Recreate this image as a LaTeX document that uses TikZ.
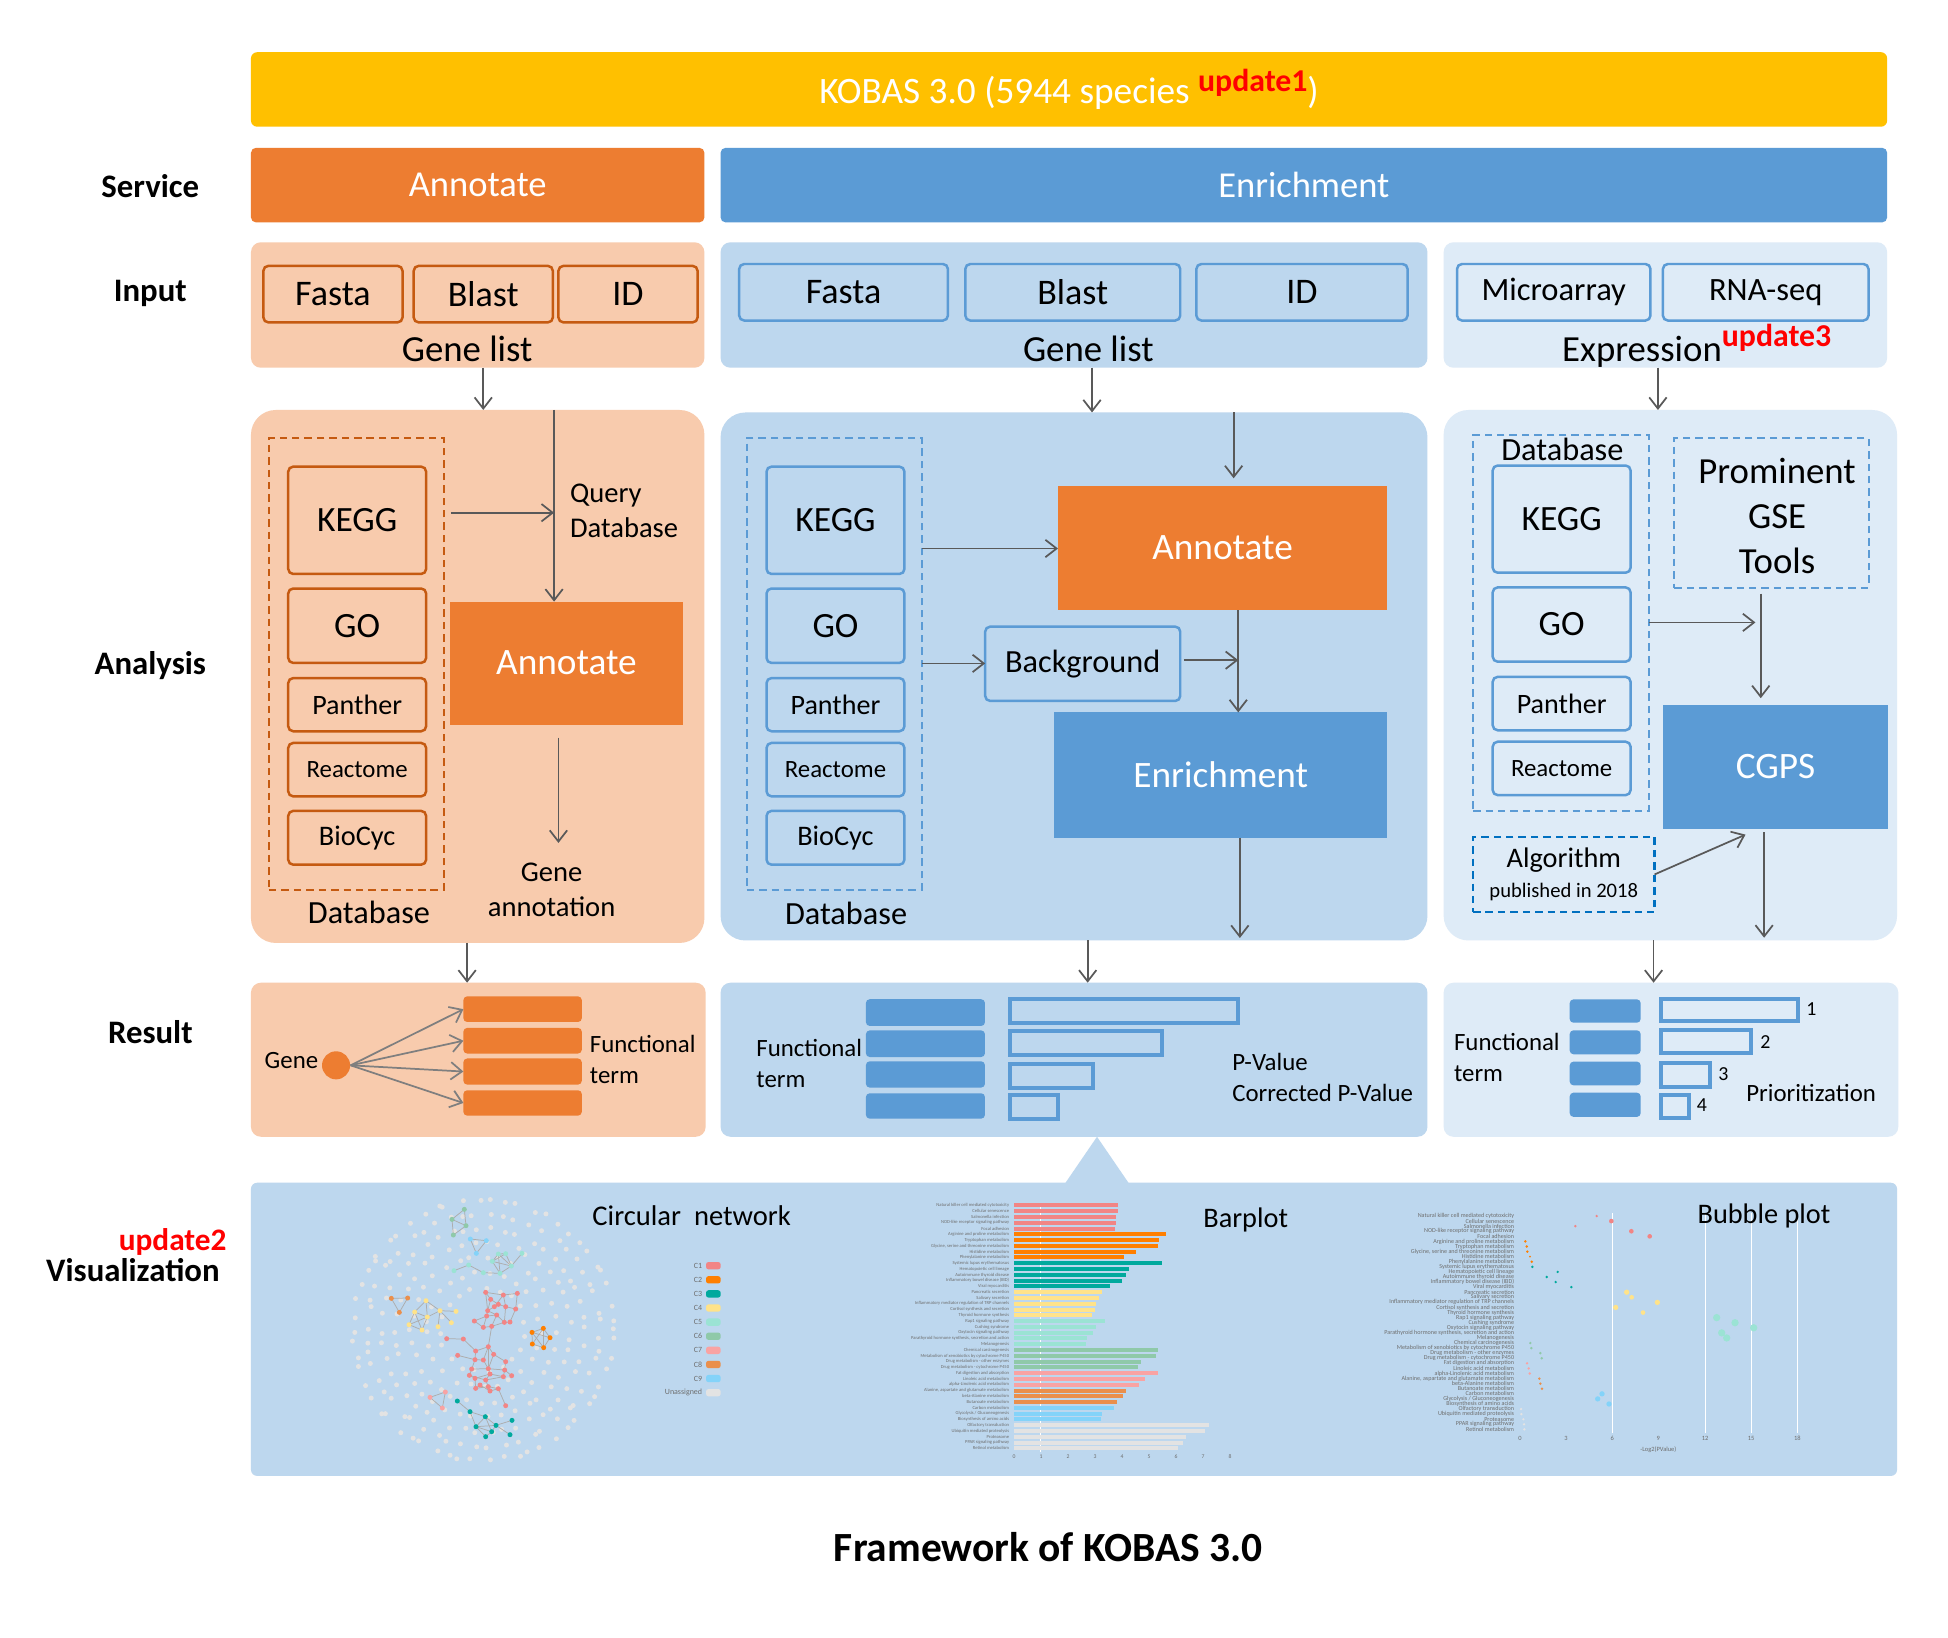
\documentclass[tikz,border=0pt]{standalone}
\usepackage{fontspec}
\setmainfont{Carlito}
\usetikzlibrary{arrows.meta}
\definecolor{kyel}{HTML}{FFC000}
\definecolor{kor}{HTML}{ED7D31}
\definecolor{kbl}{HTML}{5B9BD5}
\definecolor{klo}{HTML}{F8CBAD}
\definecolor{klb}{HTML}{BDD7EE}
\definecolor{kvb}{HTML}{DEEBF7}
\definecolor{kod}{HTML}{C55A11}
\definecolor{kdb}{HTML}{0070C0}
\definecolor{karr}{HTML}{595959}
\definecolor{karr2}{HTML}{7F7F7F}
\definecolor{kred}{HTML}{FF0000}
\definecolor{nwA}{HTML}{F28585}
\definecolor{nwB}{HTML}{FF7F00}
\definecolor{nwC}{HTML}{00A99D}
\definecolor{nwD}{HTML}{FFE38A}
\definecolor{nwE}{HTML}{9BE3D4}
\definecolor{nwF}{HTML}{8FC9A9}
\definecolor{nwG}{HTML}{F9A3A3}
\definecolor{nwH}{HTML}{EA8F4C}
\definecolor{nwI}{HTML}{84D3F9}
\definecolor{nwU}{HTML}{E3E3E3}
\definecolor{ktxt}{HTML}{6E6E6E}
\newcommand\kfs[2]{\fontsize{#1}{#2}\selectfont}
\newcommand\kbox[7]{\node[inner sep=0pt,outer sep=0pt,#2,minimum width={((#5)-(#3))*0.5pt},minimum height={((#6)-(#4))*0.5pt}] (#1) at ({((#3)+(#5))/2},{((#4)+(#6))/2}) {#7};}
\tikzset{
  arr/.style={draw=karr,line width=0.7pt,-{Straight Barb[length=4.5pt,width=7pt]}},
  arrg/.style={draw=karr2,line width=0.7pt,-{Straight Barb[length=4.5pt,width=7pt]}},
  obox/.style={draw=kod,line width=1pt,rounded corners=2pt},
  bbox/.style={draw=kbl,line width=1pt,rounded corners=2pt},
  dashO/.style={draw=kod,line width=0.8pt,dash pattern=on 3pt off 2pt},
  dashB/.style={draw=kbl,line width=0.8pt,dash pattern=on 3pt off 2pt},
  dashD/.style={draw=kdb,line width=1pt,dash pattern=on 3pt off 2pt},
  rowlab/.style={font={\kfs{13.2}{15}\bfseries}},
  bigw/.style={text=white,font={\kfs{14.7}{17}}},
  anw/.style={text=white,font={\kfs{15}{18}}},
  dbf/.style={font={\kfs{14.3}{17}}},
  txt/.style={font={\kfs{11.5}{14}}},
  rtxt/.style={font={\kfs{10}{12.5}}},
  outbar/.style={draw=kbl,line width=1.6pt},
  nedge/.style={draw=black!32,line width=0.3pt},
  tiny/.style={text=ktxt,inner sep=0.3pt},
}
\def\pathlist{Natural killer cell mediated cytotoxicity/653/620/4/nwA,%
Cellular senescence/653/664/7/nwA,%
Salmonella infection/648/556/4/nwA,%
NOD-like receptor signaling pathway/648/724/7/nwA,%
Focal adhesion/645/779/7/nwA,%
Arginine and proline metabolism/797/406/4/nwB,%
Tryptophan metabolism/777/410/4/nwB,%
{Glycine, serine and threonine metabolism}/773/412/4/nwB,%
Histidine metabolism/707/420/3/nwB,%
Phenylalanine metabolism/673/425/4/nwB,%
Systemic lupus erythematosus/785/427/4/nwC,%
Hematopoietic cell lineage/686/503/4/nwC,%
Autoimmune thyroid disease/677/470/4/nwC,%
Inflammatory bowel disease (IBD)/666/497/4/nwC,%
Viral myocarditis/629/544/4/nwC,%
Pancreatic secretion/607/710/8/nwD,%
Salivary secretion/598/725/7/nwD,%
Inflammatory mediator regulation of TRP channels/587/802/8/nwD,%
Cortisol synthesis and secretion/585/677/8/nwD,%
Thyroid hormone synthesis/575/759/7/nwD,%
Rap1 signaling pathway/616/980/11/nwE,%
Cushing syndrome/587/1035/11/nwE,%
Oxytocin signaling pathway/578/1091/11/nwE,%
{Parathyroid hormone synthesis, secretion and action}/560/995/11/nwE,%
Melanogenesis/557/1010/11/nwE,%
Chemical carcinogenesis/775/421/4/nwF,%
Metabolism of xenobiotics by cytochrome P450/767/424/4/nwF,%
Drug metabolism - other enzymes/722/451/4/nwF,%
Drug metabolism - cytochrome P450/713/455/4/nwF,%
Fat digestion and absorption/775/411/4/nwG,%
Linoleic acid metabolism/734/416/4/nwG,%
alpha-Linolenic acid metabolism/716/419/4/nwG,%
{Alanine, aspartate and glutamate metabolism}/678/448/4/nwH,%
beta-Alanine metabolism/668/451/4/nwH,%
Butanoate metabolism/650/456/4/nwH,%
Carbon metabolism/641/636/8/nwI,%
{Glycolysis / Gluconeogenesis}/605/623/8/nwI,%
Biosynthesis of amino acids/603/657/8/nwI,%
Olfactory transduction/927/393/4/nwU,%
Ubiquitin mediated proteolysis/915/394/4/nwU,%
Proteasome/857/400/4/nwU,%
PPAR signaling pathway/848/402/4/nwU,%
Retinol metabolism/833/403/4/nwU}
\begin{document}
\begin{tikzpicture}[x=0.5pt,y=-0.5pt]
\useasboundingbox (0,0) rectangle (1568,1318);
\fill[white] (0,0) rectangle (1568,1318);

% ---------------- banner and service ----------------
\kbox{banner}{fill=kyel,rounded corners=2.5pt,text=white,font={\kfs{15}{17}}}{202}{42}{1519}{102}{KOBAS 3.0 (5944 species \raisebox{5pt}{\kfs{12.8}{14}\bfseries\color{kred}update1})}
\node[rowlab] (lserv) at (121,150) {Service};
\node[rowlab] (linp) at (121,236) {Input};
\node[rowlab] (lana) at (121,536) {Analysis};
\node[rowlab] (lres) at (121,831) {Result};
\node[font={\kfs{12.6}{14}\bfseries},text=kred] (lupd2) at (139,999.5) {update2};
\node[rowlab] (lvis) at (107,1022.5) {Visualization};

\kbox{svA}{fill=kor,rounded corners=2pt,bigw}{202}{119}{567}{179}{Annotate}
\kbox{svE}{fill=kbl,rounded corners=2pt,bigw}{580}{119}{1519}{179}{Enrichment}

% ---------------- input ----------------
\kbox{inL}{fill=klo,rounded corners=4pt}{202}{195}{567}{296}{}
\kbox{fL1}{obox,font={\kfs{14.5}{17}}}{212}{214}{324}{259.5}{Fasta}
\kbox{fL2}{obox,font={\kfs{14.5}{17}}}{333}{214}{445}{259.5}{Blast}
\kbox{fL3}{obox,font={\kfs{14.5}{17}}}{449.5}{214}{561.5}{259.5}{ID}
\node[font={\kfs{14.8}{17}}] (glL) at (376,281) {Gene list};

\kbox{inM}{fill=klb,rounded corners=4pt}{580}{195}{1149}{296}{}
\kbox{fM1}{bbox,font={\kfs{14.5}{17}}}{595}{212.5}{763}{258}{Fasta}
\kbox{fM2}{bbox,font={\kfs{14.5}{17}}}{777}{212.5}{950}{258}{Blast}
\kbox{fM3}{bbox,font={\kfs{14.5}{17}}}{963}{212.5}{1133}{258}{ID}
\node[font={\kfs{14.8}{17}}] (glM) at (876,281) {Gene list};

\kbox{inR}{fill=kvb,rounded corners=4pt}{1162}{195}{1519}{296}{}
\kbox{fR1}{bbox,font={\kfs{13.1}{16}}}{1172.8}{212.5}{1328.5}{258}{Microarray}
\kbox{fR2}{bbox,font={\kfs{13.1}{16}}}{1338.5}{212.5}{1504}{258}{RNA-seq}
\node[font={\kfs{14.8}{17}},anchor=base west,inner sep=0pt] (expr) at (1257,291) {Expression\raisebox{6pt}{\kfs{12.8}{14}\bfseries\color{kred}update3}};

% ---------------- analysis: annotate ----------------
\kbox{anL}{fill=klo,rounded corners=10pt}{202}{330}{567}{759}{}
\kbox{dL}{dashO}{216.5}{352.5}{357}{716}{}
\kbox{kgL}{obox,dbf}{232}{375.6}{343}{462}{KEGG}
\kbox{goL}{obox,dbf}{232}{473.7}{343}{533.6}{GO}
\kbox{ptL}{obox,font={\kfs{11.3}{13}}}{232}{545.8}{343}{588.6}{Panther}
\kbox{rcL}{obox,font={\kfs{10}{12}}}{232}{598}{343}{641}{Reactome}
\kbox{bcL}{obox,font={\kfs{11.4}{13}}}{232}{652.7}{343}{696}{BioCyc}
\node[font={\kfs{13}{15}}] (dbL) at (297,734.5) {Database};
\kbox{annL}{fill=kor,anw}{362}{484.3}{550}{583.2}{Annotate}
\node[txt,anchor=west,align=left,inner sep=0pt] (qdb) at (458.5,411) {Query\\Database};
\node[txt,align=center] (ganno) at (444,716.5) {Gene\\annotation};
\coordinate (xL1) at (389,0);
\coordinate (xL2) at (446,0);
\coordinate (qL) at (446,412.7);
\coordinate (gaT) at (449.5,678.5);
\coordinate (xL4) at (376,0);
\draw[arr] (inL.south -| xL1) -- (anL.north -| xL1);
\draw[arr] (anL.north -| xL2) -- (annL.north -| xL2);
\draw[arr,shorten <=3pt] (dL.east |- qL) -- (qL);
\draw[arr,shorten <=5.3pt] (annL.south -| gaT) -- (gaT);

% ---------------- analysis: enrichment ----------------
\kbox{anM}{fill=klb,rounded corners=10pt}{580}{332}{1149}{757}{}
\kbox{dM}{dashB}{601}{352.5}{742}{716}{}
\kbox{kgM}{bbox,dbf}{617}{375.6}{728}{462}{KEGG}
\kbox{goM}{bbox,dbf}{617}{473.7}{728}{533.6}{GO}
\kbox{ptM}{bbox,font={\kfs{11.3}{13}}}{617}{545.8}{728}{588.6}{Panther}
\kbox{rcM}{bbox,font={\kfs{10}{12}}}{617}{598}{728}{641}{Reactome}
\kbox{bcM}{bbox,font={\kfs{11.4}{13}}}{617}{652.7}{728}{696}{BioCyc}
\node[font={\kfs{13}{15}}] (dbM) at (681,735.4) {Database};
\kbox{annM}{fill=kor,anw}{851.6}{391}{1116.6}{491.3}{Annotate}
\kbox{bg}{bbox,font={\kfs{13}{15}}}{793}{504.4}{950}{564.2}{Background}
\kbox{enM}{fill=kbl,anw}{848.6}{573.4}{1116.6}{674.3}{Enrichment}
\coordinate (xM1) at (879,0);
\coordinate (xM2) at (993,0);
\coordinate (yM1) at (0,441.5);
\coordinate (yM2) at (0,534);
\coordinate (bgT) at (996.7,531.4);
\coordinate (xM3) at (996.7,0);
\coordinate (enT) at (998,755);
\coordinate (xM4) at (875.5,0);
\draw[arr] (inM.south -| xM1) -- (anM.north -| xM1);
\draw[arr,shorten >=3pt] (anM.north -| xM2) -- (annM.north -| xM2);
\draw[arr] (dM.east |- yM1) -- (annM.west |- yM1);
\draw[arr] (dM.east |- yM2) -- (bg.west |- yM2);
\draw[arr,shorten <=1.5pt] (bg.east |- bgT) -- (bgT);
\draw[arr] (annM.south -| xM3) -- (enM.north -| xM3);
\draw[arr] (enM.south -| enT) -- (enT);

% ---------------- analysis: GSE ----------------
\kbox{anR}{fill=kvb,rounded corners=10pt}{1162}{330}{1527}{757}{}
\kbox{dR}{dashB}{1185.8}{350}{1327}{652.7}{}
\node[font={\kfs{13}{15}}] (dbR) at (1257.6,362) {Database};
\kbox{kgR}{bbox,dbf}{1201.5}{374.7}{1312.5}{461}{KEGG}
\kbox{goR}{bbox,dbf}{1201.5}{472.8}{1312.5}{532.6}{GO}
\kbox{ptR}{bbox,font={\kfs{11.3}{13}}}{1201.5}{544.8}{1312.5}{587.8}{Panther}
\kbox{rcR}{bbox,font={\kfs{10}{12}}}{1201.5}{597}{1312.5}{640}{Reactome}
\kbox{pg}{dashB}{1347.8}{352.5}{1504}{472.9}{}
\node[align=center,font={\kfs{14.8}{18}},inner sep=0pt] (pgt) at (1430.4,415.5) {Prominent\\GSE\\Tools};
\kbox{cgps}{fill=kbl,anw}{1338.8}{567.6}{1519.5}{667}{CGPS}
\kbox{alg}{dashD,align=center,font={\kfs{11.4}{12}}}{1185.7}{673.7}{1331.8}{734}{Algorithm\\{\kfs{8.3}{12}published in 2018}}
\coordinate (xR1) at (1334.5,0);
\coordinate (pgT) at (1413,501);
\coordinate (xR2) at (1417.3,0);
\coordinate (algT) at (1405,671.8);
\coordinate (cgT) at (1420,754.8);
\coordinate (xR3) at (1331,0);
\draw[arr] (inR.south -| xR1) -- (anR.north -| xR1);
\draw[arr] (dR.east |- pgT) -- (pgT);
\draw[arr,shorten <=2.5pt,shorten >=2.8pt] (pg.south -| xR2) -- (cgps.north -| xR2);
\draw[arr] (alg.east) -- (algT);
\draw[arr,shorten <=1.5pt] (cgps.south -| cgT) -- (cgT);

% ---------------- results ----------------
\kbox{rL}{fill=klo,rounded corners=4pt}{202}{791}{568}{915}{}
\kbox{rM}{fill=klb,rounded corners=4pt}{580}{791}{1149}{915}{}
\kbox{rR}{fill=kvb,rounded corners=4pt}{1162}{791}{1528}{915}{}
\draw[arr] (anL.south -| xL4) -- (rL.north -| xL4);
\draw[arr] (anM.south -| xM4) -- (rM.north -| xM4);
\draw[arr] (anR.south -| xR3) -- (rR.north -| xR3);

% left result
\kbox{fb1}{fill=kor,rounded corners=1.5pt}{373}{802}{468.3}{822.6}{}
\kbox{fb2}{fill=kor,rounded corners=1.5pt}{373}{827.4}{468.3}{848}{}
\kbox{fb3}{fill=kor,rounded corners=1.5pt}{373}{852}{468.3}{873}{}
\kbox{fb4}{fill=kor,rounded corners=1.5pt}{373}{877.6}{468.3}{898}{}
\node[circle,fill=kor,minimum size=11.3pt,inner sep=0pt] (gene) at (270.5,857.5) {};
\node[rtxt,anchor=east,inner sep=1pt] (genet) at (258.5,854) {Gene};
\node[rtxt,anchor=west,align=left,inner sep=0pt] (ftL) at (474.5,853) {Functional\\term};
\foreach \b in {fb1,fb2,fb3,fb4} \draw[arrg] (gene.east) -- (\b.west);

% middle result
\kbox{mb1}{fill=kbl,rounded corners=1.5pt}{697}{804.3}{792.8}{825.8}{}
\kbox{mb2}{fill=kbl,rounded corners=1.5pt}{697}{829.4}{792.8}{850.8}{}
\kbox{mb3}{fill=kbl,rounded corners=1.5pt}{697}{854.3}{792.8}{875.4}{}
\kbox{mb4}{fill=kbl,rounded corners=1.5pt}{697}{880}{792.8}{900.4}{}
\kbox{mo1}{outbar}{813.2}{804.1}{996.4}{823.7}{}
\kbox{mo2}{outbar}{813.2}{829.8}{935.4}{849.2}{}
\kbox{mo3}{outbar}{813.2}{856.4}{879.9}{876}{}
\kbox{mo4}{outbar}{813.2}{881.4}{851.8}{901}{}
\node[rtxt,anchor=west,align=left,inner sep=0pt] (ftM) at (608.5,856) {Functional\\term};
\node[rtxt,anchor=west,align=left,inner sep=0pt] (pval) at (991.5,867) {P-Value\\Corrected P-Value};

% right result
\kbox{rb1}{fill=kbl,rounded corners=1.5pt}{1263.5}{804.4}{1320.6}{823.2}{}
\kbox{rb2}{fill=kbl,rounded corners=1.5pt}{1263.5}{829.3}{1320.6}{848.6}{}
\kbox{rb3}{fill=kbl,rounded corners=1.5pt}{1263.5}{854.5}{1320.6}{873.6}{}
\kbox{rb4}{fill=kbl,rounded corners=1.5pt}{1263.5}{879.5}{1320.6}{899}{}
\kbox{ro1}{outbar}{1336.6}{804.1}{1447}{821.5}{}
\kbox{ro2}{outbar}{1336.6}{829}{1409.7}{847.3}{}
\kbox{ro3}{outbar}{1336.6}{855.9}{1376.2}{874.7}{}
\kbox{ro4}{outbar}{1336.6}{881.1}{1359.4}{899.6}{}
\node[font={\kfs{8}{9}}] (n1) at (1458,811.9) {1};
\node[font={\kfs{8}{9}}] (n2) at (1421,838.7) {2};
\node[font={\kfs{8}{9}}] (n3) at (1387.3,864.5) {3};
\node[font={\kfs{8}{9}}] (n4) at (1369.8,889.5) {4};
\node[rtxt,anchor=west,align=left,inner sep=0pt] (ftR) at (1170,851.5) {Functional\\term};
\node[rtxt] (prio) at (1457.8,880) {Prioritization};

% ---------------- visualization ----------------
\fill[klb] (857,953) -- (883,915) -- (909,953) -- cycle;
\kbox{viz}{fill=klb,rounded corners=2.5pt}{202}{952}{1527}{1188}{}
\node[font={\kfs{16.7}{19}\bfseries}] (title) at (843.8,1245) {Framework of KOBAS 3.0};

\begin{scope}[x=0.40246pt,y=-0.40246pt]
% circular network (zoom coordinates)
\begin{scope}[shift={(340,1190)},scale=1/3]
\pgfmathsetseed{3}
\foreach \r/\n/\o in {390/58/0,348/52/3,305/46/1,262/39/5,218/32/2,172/25/4,128/19/7}{
  \foreach \k in {1,...,\n}{
    \pgfmathsetmacro\ang{360/\n*\k+\o+3*rand}
    \pgfmathsetmacro\rad{\r+6*rand}
    \fill[nwU] (430,420) ++(\ang:\rad) circle (7.5);
  }
}
\foreach \px/\py [count=\i] in {437/307,490/315,532/310,452/328,475/343,497/350,527/357,443/362,470/375,440/378,403/393,430/412,455/409,493/397,510/396,463/350} \coordinate (A\i) at (\px,\py);
\foreach \px/\py [count=\i] in {320/446,370/447,445/470,407/483,461/493,353/496,405/509,430/510,497/515,395/537,445/536,494/540,515/557,388/556,405/565,450/552,437/570,490/560,407/595,445/590,475/596,450/603,420/585,497/647} \coordinate (B\i) at (\px,\py);
\foreach \px/\py [count=\i] in {576/427,610/415,630/443,611/473,577/462} \coordinate (O\i) at (\px,\py);
\foreach \px/\py [count=\i] in {352/633,390/665,436/680,516/691,408/710,468/706,455/725,437/740,510/734} \coordinate (T\i) at (\px,\py);
\foreach \px/\py [count=\i] in {258/332,224/366,262/381,300/362,348/364,207/404,246/420,294/410,334/398} \coordinate (Y\i) at (\px,\py);
\foreach \px/\py [count=\i] in {475/192,497/191,546/190,457/214,514/228,386/225,342/242,430/248,480/250} \coordinate (M\i) at (\px,\py);
\foreach \px/\py [count=\i] in {373/58,336/88,378/107,340/135} \coordinate (G\i) at (\px,\py);
\foreach \px/\py [count=\i] in {270/622,316/606,307/654} \coordinate (P\i) at (\px,\py);
\foreach \px/\py [count=\i] in {154/325,203/324,178/367} \coordinate (E\i) at (\px,\py);
\foreach \px/\py [count=\i] in {391/147,439/152,409/190} \coordinate (S\i) at (\px,\py);
\foreach \u/\v in {1/2,2/3,1/4,4/5,5/6,6/7,4/8,8/9,9/10,10/11,11/12,12/13,13/9,9/14,14/15,6/14,5/16,16/8,2/6,3/7,8/10,13/14,7/15,1/8,2/16,12/10} \draw[nedge] (A\u) -- (A\v);
\foreach \u/\v in {1/2,2/4,3/4,3/5,4/7,6/7,7/8,8/3,5/9,8/11,10/11,11/12,12/13,10/14,14/15,15/16,16/17,17/18,18/12,15/19,19/20,20/21,21/22,22/23,23/19,17/20,11/16,16/18,12/9,24/21,10/7,3/11,5/11,14/17} \draw[nedge] (B\u) -- (B\v);
\draw[nedge] (A13) -- (B3);
\foreach \u/\v in {1/2,2/3,3/4,4/5,5/1,1/3,2/4,2/5,1/4} \draw[nedge] (O\u) -- (O\v);
\foreach \u/\v in {1/2,2/3,3/5,3/6,5/6,5/7,6/7,7/8,5/8,6/4,6/9,3/7,2/5} \draw[nedge] (T\u) -- (T\v);
\foreach \u/\v in {1/2,1/3,2/3,2/6,3/6,6/7,3/7,2/7,1/4,4/5,4/8,4/9,3/4} \draw[nedge] (Y\u) -- (Y\v);
\foreach \u/\v in {1/2,1/4,2/5,4/5,4/9,5/9,1/5,2/4,5/3,6/7,6/8,8/9,1/9} \draw[nedge] (M\u) -- (M\v);
\foreach \u/\v in {1/2,1/3,2/3,3/4,2/4} \draw[nedge] (G\u) -- (G\v);
\foreach \u/\v in {1/2,2/3,1/3} \draw[nedge] (P\u) -- (P\v) (E\u) -- (E\v) (S\u) -- (S\v);
\foreach \i in {1,...,16} \fill[nwA] (A\i) circle (7.5);
\foreach \i in {1,...,24} \fill[nwA] (B\i) circle (7.5);
\foreach \i in {1,...,5} \fill[nwB] (O\i) circle (7.5);
\foreach \i in {1,...,9} \fill[nwC] (T\i) circle (7.5);
\foreach \i in {1,...,9} \fill[nwD] (Y\i) circle (7.5);
\foreach \i in {1,...,9} \fill[nwE] (M\i) circle (7.5);
\foreach \i in {1,...,4} \fill[nwF] (G\i) circle (7.5);
\foreach \i in {1,...,3} \fill[nwG] (P\i) circle (7.5);
\foreach \i in {1,...,3} \fill[nwH] (E\i) circle (7.5);
\foreach \i in {1,...,3} \fill[nwI] (S\i) circle (7.5);
\foreach \c/\t [count=\i] in {nwA/C1,nwB/C2,nwC/C3,nwD/C4,nwE/C5,nwF/C6,nwG/C7,nwH/C8,nwI/C9,nwU/Unassigned}{
  \pgfmathsetmacro\yy{227+(\i-1)*42.33}
  \fill[fill=\c,rounded corners=1pt] (1098,\yy-11) rectangle (1142,\yy+11);
  \node[tiny,anchor=east,font={\kfs{3.2}{4}}] at (1090,\yy) {\t};
}
\node[font={\kfs{11.5}{14}}] (tnet) at (1055,78) {Circular~ network};
\end{scope}

% barplot
\begin{scope}[shift={(900,1190)},scale=1/3]
\draw[white,line width=0.4pt] (422,40) -- (422,785);
\foreach \lab/\bv/\ubx/\ubr/\col [count=\i] in \pathlist {
  \pgfmathsetmacro\yy{46+(\i-1)*17.36}
  \fill[fill=\col] (342,\yy-6) rectangle (\bv,\yy+6);
  \node[tiny,anchor=east,font={\kfs{1.85}{2.2}}] at (331,\yy) {\lab};
}
\foreach \k in {0,...,8} \node[tiny,font={\kfs{2.3}{3}}] at (342+81*\k,800) {\k};
\node[font={\kfs{11.4}{14}}] (tbar) at (1037,90) {Barplot};
\end{scope}

% bubble plot
\begin{scope}[shift={(1390,1190)},scale=1/3]
\foreach \xx in {667,945,1083,1222} \draw[white,line width=0.4pt] (\xx,70) -- (\xx,730);
\foreach \lab/\bv/\ubx/\ubr/\col [count=\i] in \pathlist {
  \pgfmathsetmacro\yy{78+(\i-1)*15.24}
  \fill[fill=\col] (\ubx,\yy) circle (\ubr);
  \node[tiny,anchor=east,font={\kfs{2.45}{2.8}}] at (376,\yy) {\lab};
}
\foreach \v/\xx in {0/390,3/528,6/667,9/805,12/945,15/1083,18/1222} \node[tiny,font={\kfs{2.6}{3}}] at (\xx,745) {\v};
\node[tiny,font={\kfs{2.6}{3}}] at (805,778) {-Log2(PValue)};
\node[font={\kfs{11.4}{14}}] (tbub) at (1122,78) {Bubble plot};
\end{scope}
\end{scope}
\end{tikzpicture}
\end{document}
